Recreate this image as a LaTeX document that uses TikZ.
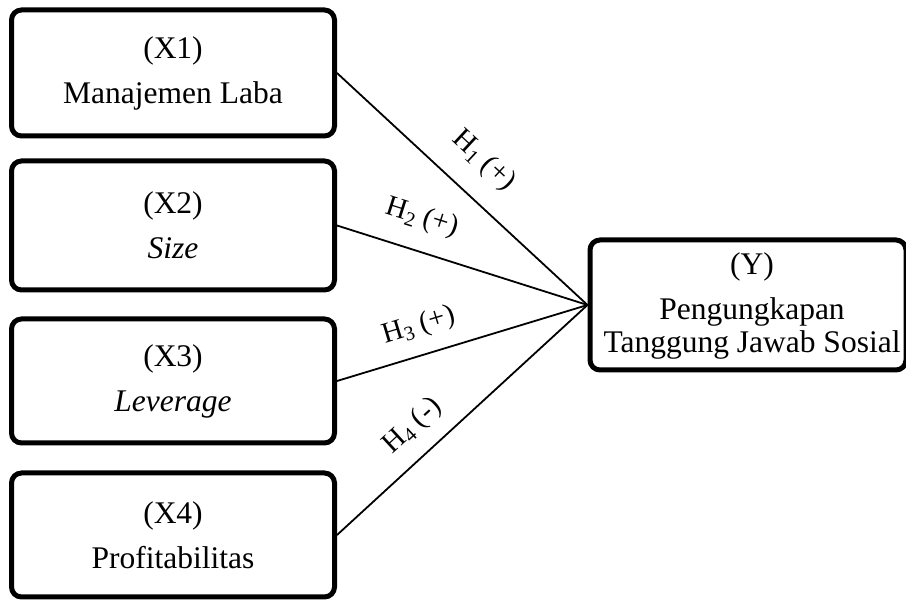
\documentclass[tikz,border=0pt]{standalone}
\usepackage{fontspec}
\setmainfont{Liberation Serif}
\begin{document}
\begin{tikzpicture}[x=1pt,y=-1pt,
  box/.style={draw, line width=5pt, rounded corners=10pt, align=center,
    font=\fontsize{31.5}{33}\selectfont, inner sep=0pt},
  xbox/.style={box, minimum width=323pt},
  btext/.style={align=center, font=\fontsize{31.5}{33}\selectfont, inner sep=0pt},
  conn/.style={line width=1.8pt},
  hyp/.style={sloped, font=\fontsize{29}{31}\selectfont, inner sep=0pt}]
\useasboundingbox (0,0) rectangle (906,601);
\node[xbox, minimum height=126pt] (X1) at (173,73) {(X1)\\[12pt]Manajemen Laba};
\node[xbox, minimum height=129pt] (X2) at (173,225.5) {(X2)\\[12pt]\textit{Size}};
\node[xbox, minimum height=124pt] (X3) at (173,381) {(X3)\\[12pt]\textit{Leverage}};
\node[xbox, minimum height=124pt] (X4) at (173,535) {(X4)\\[12pt]Profitabilitas};
\node[box, minimum width=316pt, minimum height=130pt] (Y) at (748,305) {};
\node[btext] (Yt) at (752,306) {(Y)\\[12pt]Pengungkapan\\Tanggung Jawab Sosial};
\draw[conn] (X1.east) -- node[hyp, pos=0.49, yshift=35pt] (h1) {H\textsubscript{1} (+)} (Y.west);
\draw[conn] (X2.east) -- node[hyp, pos=0.30, yshift=33pt] (h2) {H\textsubscript{2} (+)} (Y.west);
\draw[conn] (X3.east) -- node[hyp, pos=0.36, yshift=29pt] (h3) {H\textsubscript{3} (+)} (Y.west);
\draw[conn] (X4.east) -- node[hyp, pos=0.38, yshift=29pt] (h4) {H\textsubscript{4} (-)} (Y.west);
\end{tikzpicture}
\end{document}
